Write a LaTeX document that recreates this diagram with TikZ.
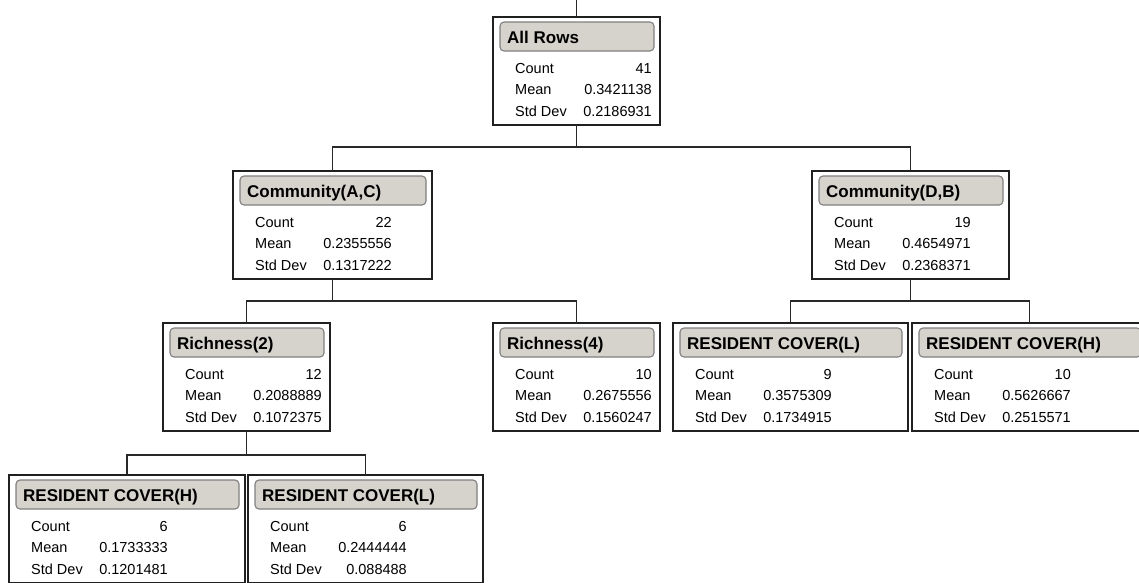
\documentclass[tikz,border=0pt]{standalone}
\usepackage{fontspec}
\setmainfont{Liberation Sans}
\definecolor{pillfill}{RGB}{214,211,204}
\definecolor{pilledge}{RGB}{128,128,128}
\definecolor{boxedge}{RGB}{32,32,32}
\definecolor{wire}{RGB}{40,40,40}
\tikzset{
  nodebox/.style={draw=boxedge, line width=1.4pt, fill=white, rectangle, minimum height=108, inner sep=0pt, outer sep=0pt},
  pill/.style={draw=pilledge, line width=1.1pt, fill=pillfill, rounded corners=4pt, rectangle, minimum height=29, inner sep=0pt, outer sep=0pt},
  hdr/.style={inner sep=0pt, font=\fontsize{17}{20}\selectfont\bfseries},
  lbl/.style={inner sep=0pt, font=\fontsize{14.5}{17}\selectfont},
  wirestyle/.style={draw=wire, line width=1.3pt}
}
\newcommand\statbox[8]{%
  \node[nodebox, minimum width={#4}, anchor=north west] (#1) at (#2,#3) {};
  \node[pill, minimum width={#4-13}, anchor=north west] (#1-pill) at ({#2+7},{#3+5}) {};
  \node[hdr, anchor=base west] (#1-h) at ({#2+14},{#3+26.5}) {#5};
  \node[lbl, anchor=base west] (#1-cl) at ({#2+22},{#3+56}) {Count};
  \node[lbl, anchor=base east] (#1-cv) at ({#2+159},{#3+56}) {#6};
  \node[lbl, anchor=base west] (#1-ml) at ({#2+22},{#3+77.5}) {Mean};
  \node[lbl, anchor=base east] (#1-mv) at ({#2+159},{#3+77.5}) {#7};
  \node[lbl, anchor=base west] (#1-sl) at ({#2+22},{#3+99}) {Std Dev};
  \node[lbl, anchor=base east] (#1-sv) at ({#2+159},{#3+99}) {#8};
}
\begin{document}
\begin{tikzpicture}[x=1pt, y=-1pt]
\useasboundingbox[fill=white] (0,0) rectangle (1139,582);
\clip (0,0) rectangle (1139,582);
\statbox{all}{493}{17}{167}{All Rows}{41}{0.3421138}{0.2186931}
\statbox{comAC}{233}{171}{199}{Community(A,C)}{22}{0.2355556}{0.1317222}
\statbox{comDB}{812}{171}{197}{Community(D,B)}{19}{0.4654971}{0.2368371}
\statbox{rich2}{163}{323}{167}{Richness(2)}{12}{0.2088889}{0.1072375}
\statbox{rich4}{493}{323}{167}{Richness(4)}{10}{0.2675556}{0.1560247}
\statbox{rcL}{673}{323}{235}{RESIDENT COVER(L)}{9}{0.3575309}{0.1734915}
\statbox{rcH}{912}{323}{235}{RESIDENT COVER(H)}{10}{0.5626667}{0.2515571}
\statbox{brcH}{9}{475}{236}{RESIDENT COVER(H)}{6}{0.1733333}{0.1201481}
\statbox{brcL}{248}{475}{235}{RESIDENT COVER(L)}{6}{0.2444444}{0.088488}
\coordinate (top) at (576.5,0);
\draw[wirestyle] (top) -- (all.north);
\draw[wirestyle] (all.south) -- ++(0,22) coordinate (j1);
\draw[wirestyle] (j1) -| (comAC.north);
\draw[wirestyle] (j1) -| (comDB.north);
\draw[wirestyle] (comAC.south) -- ++(0,22) coordinate (j2);
\draw[wirestyle] (j2) -| (rich2.north);
\draw[wirestyle] (j2) -| (rich4.north);
\draw[wirestyle] (comDB.south) -- ++(0,22) coordinate (j3);
\draw[wirestyle] (j3) -| (rcL.north);
\draw[wirestyle] (j3) -| (rcH.north);
\draw[wirestyle] (rich2.south) -- ++(0,24) coordinate (j4);
\draw[wirestyle] (j4) -| (brcH.north);
\draw[wirestyle] (j4) -| (brcL.north);
\end{tikzpicture}
\end{document}
